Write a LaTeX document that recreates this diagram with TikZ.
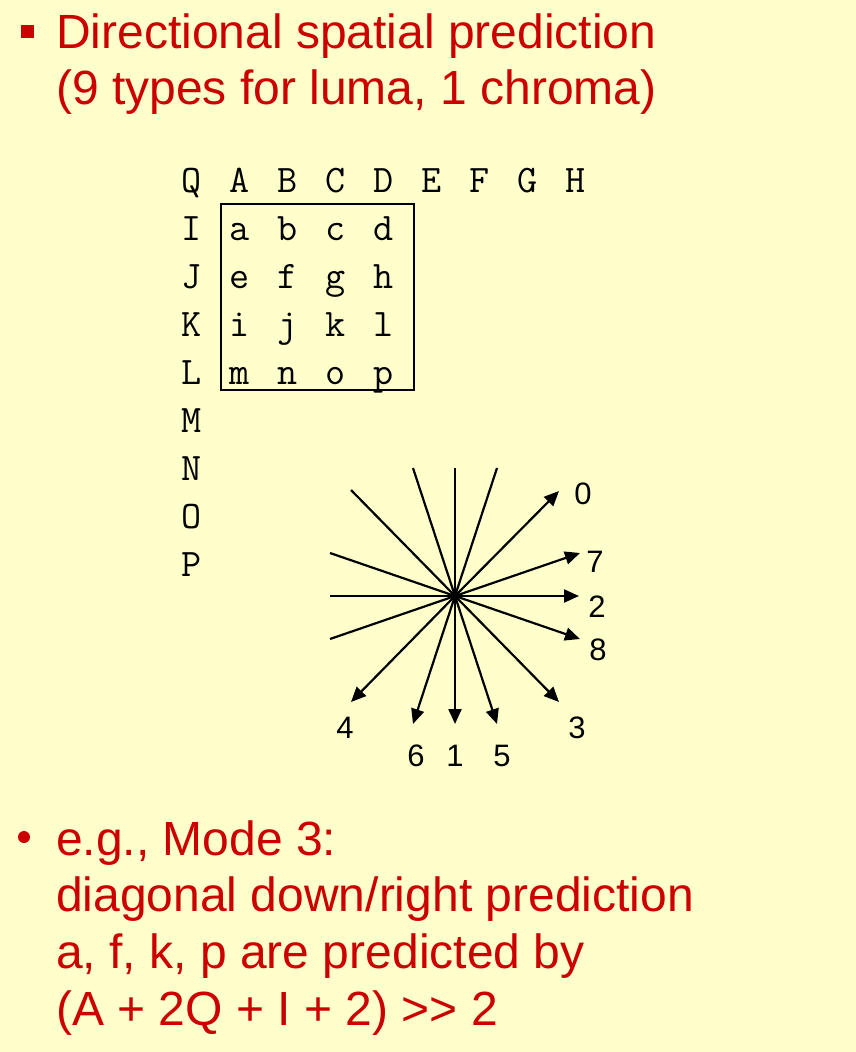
\documentclass[tikz,border=0pt]{standalone}
\usepackage{fontspec}
\setmainfont{Liberation Sans}
\usetikzlibrary{arrows.meta}
\definecolor{bg}{HTML}{FFFFCC}
\definecolor{slidered}{HTML}{CC0000}
\begin{document}
\begin{tikzpicture}[x=1pt,y=-1pt,
  txt/.style={anchor=base west, inner sep=0pt, text=slidered, font=\fontsize{48}{56}\selectfont},
  grid/.style={anchor=base, inner sep=0pt, font=\fontsize{39}{40}\ttfamily},
  lbl/.style={inner sep=0pt, font=\fontsize{31}{34}\selectfont},
  ray/.style={line width=2.2pt},
  arr/.style={line width=2.2pt, -{Triangle[length=15pt,width=13pt]}}]
\fill[bg] (0,0) rectangle (856,1052);
\useasboundingbox (0,0) rectangle (856,1052);
% title
\fill[slidered] (20.5,25) rectangle (33.5,38);
\node[txt] (t1) at (56,48) {Directional spatial prediction};
\node[txt] (t2) at (56,104) {(9 types for luma, 1 chroma)};
% grid
\foreach \l [count=\i from 0] in {Q,A,B,C,D,E,F,G,H}
  \node[grid] (top\l) at ({192+48*\i},192) {\l};
\foreach \l [count=\i from 1] in {I,J,K,L,M,N,O,P}
  \node[grid] (row\l) at (192,{192+48*\i}) {\l};
\foreach \a/\b/\c/\d [count=\r from 1] in {a/b/c/d,e/f/g/h,i/j/k/l,m/n/o/p}{
  \node[grid] (p\a) at (240,{192+48*\r}) {\a};
  \node[grid] (p\b) at (288,{192+48*\r}) {\b};
  \node[grid] (p\c) at (336,{192+48*\r}) {\c};
  \node[grid] (p\d) at (384,{192+48*\r}) {\d};
}
\node[draw, line width=1.5pt, minimum width=193pt, minimum height=186pt, inner sep=0pt] (blk) at (317.5,297) {};
% star
\coordinate (c) at (455,596);
\coordinate (ul) at (351,490);
\coordinate (lu) at (330,553);
\coordinate (ll) at (330,596);
\coordinate (ld) at (330,639);
\coordinate (uu1) at (413,468);
\coordinate (uu) at (455,468);
\coordinate (uu2) at (497,468);
\coordinate (m0) at (559,491);
\coordinate (m7) at (580,553);
\coordinate (m2) at (579,596);
\coordinate (m8) at (580,639);
\coordinate (m3) at (559,702);
\coordinate (m5) at (497,724);
\coordinate (m1) at (455,724);
\coordinate (m6) at (413,724);
\coordinate (m4) at (351,702);
\foreach \e in {ul,lu,ll,ld,uu1,uu,uu2} \draw[ray] (c) -- (\e);
\foreach \e in {m0,m7,m2,m8,m3,m5,m1,m6,m4} \draw[arr] (c) -- (\e);
\node[lbl] (l0) at (583,494) {0};
\node[lbl] (l7) at (595,562) {7};
\node[lbl] (l2) at (597,607) {2};
\node[lbl] (l8) at (598,650) {8};
\node[lbl] (l3) at (577,728) {3};
\node[lbl] (l4) at (345,728) {4};
\node[lbl] (l6) at (416,756) {6};
\node[lbl] (l1) at (455,756) {1};
\node[lbl] (l5) at (502,756) {5};
% bottom
\fill[slidered] (24,837) circle (6);
\node[txt] (b1) at (56,855) {e.g., Mode 3:};
\node[txt] (b2) at (56,911) {diagonal down/right prediction};
\node[txt] (b3) at (56,968) {a, f, k, p are predicted by};
\node[txt] (b4) at (56,1025) {(A + 2Q + I + 2) >\kern0pt> 2};
\end{tikzpicture}
\end{document}
